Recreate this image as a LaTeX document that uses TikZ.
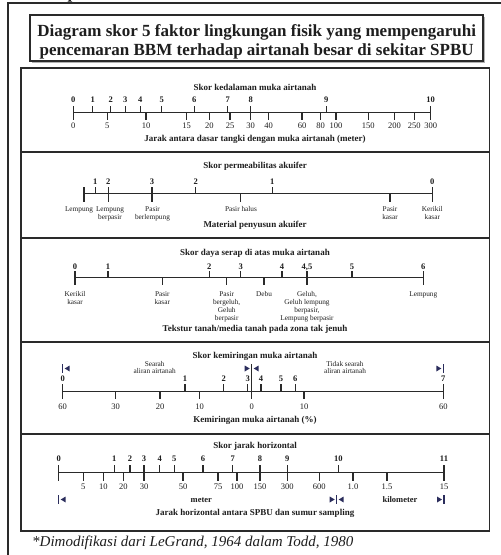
\documentclass[tikz,border=0pt]{standalone}
\usepackage{fontspec}
\setmainfont{Liberation Serif}
\definecolor{tc}{HTML}{1E1E1E}
\definecolor{lc}{HTML}{2A2A2A}
\definecolor{mkc}{HTML}{2B2D5C}
\newcommand{\mkL}[2]{%
  \draw[mkbar] (#1,#2-4.5) -- (#1,#2+4.5);
  \fill[mkc] (#1+2,#2) -- (#1+7,#2-3) -- (#1+7,#2+3) -- cycle;}
\newcommand{\mkR}[2]{%
  \draw[mkbar] (#1,#2-4.5) -- (#1,#2+4.5);
  \fill[mkc] (#1-2,#2) -- (#1-7,#2-3) -- (#1-7,#2+3) -- cycle;}
\begin{document}
\begin{tikzpicture}[x=1pt,y=-1pt,
  ln/.style={draw=lc, line width=1.3pt},
  tk/.style={draw=lc, line width=1.1pt},
  mkbar/.style={draw=mkc, line width=1.2pt},
  score/.style={font=\fontsize{8.5}{10}\selectfont\bfseries, text=tc, inner sep=0pt, anchor=base},
  val/.style={font=\fontsize{8.5}{10}\selectfont, text=tc, inner sep=0pt, anchor=base},
  lab/.style={font=\fontsize{7.3}{8.2}\selectfont, text=tc, inner sep=0pt, anchor=base, align=center},
  sect/.style={font=\fontsize{9}{10}\selectfont\bfseries, text=tc, inner sep=0pt, anchor=base},
  unit/.style={font=\fontsize{8.5}{10}\selectfont\bfseries, text=tc, inner sep=0pt, anchor=base}]
\useasboundingbox (0,0) rectangle (501,555);
\fill[white] (0,0) rectangle (501,555);
% partial heading letter at the top edge
\node[font=\fontsize{17}{20}\selectfont\bfseries, text=tc, inner sep=0pt, anchor=base west] (hdp) at (67.5,-1.3) {p};
% outer frame
\draw[draw=lc, line width=1.5pt] (8,3) -- (501,3);
\draw[draw=lc, line width=2pt] (8,2.25) -- (8,555);
% title box
\fill[gray!60] (31.5,16.5) rectangle (484.5,62.5);
\draw[draw=lc, line width=1.4pt, fill=white] (30,15) rectangle (483,61);
\node[font=\fontsize{17}{18.3}\selectfont\bfseries, text=tc, inner sep=0pt, anchor=base, align=center] (ttl) at (256.7,55)
  {Diagram skor 5 faktor lingkungan fisik yang mempengaruhi\\pencemaran BBM terhadap airtanah besar di sekitar SPBU};
% main box and dividers
\draw[draw=lc, line width=1.4pt] (21,68) rectangle (489.5,531);
\foreach \yy in {152,238,342,434} \draw[draw=lc, line width=1.3pt] (21,\yy) -- (489.5,\yy);

% ---------- Section 1
\node[sect] (t1) at (255,90) {Skor kedalaman muka airtanah};
\def\ly{112.7}
\draw[ln] (73.3,\ly) -- (430.7,\ly);
\foreach \x/\t [count=\i] in {73.3/0,92.7/1,110.7/2,125.3/3,140.3/4,161.7/5,194.3/6,227.7/7,250.7/8,326.3/9,430.7/10}
  {\draw[tk] (\x,\ly) -- ++(0,-6.5); \node[score] (a\i) at (\x,102.6) {\t};}
\foreach \x/\t [count=\i] in {73.3/0,107.3/5,146/10,186.7/15,209.3/20,230/25,250.5/30,268.5/40,302/60,320.7/80,336/100,368.3/150,394.5/200,414.3/250,430.7/300}
  {\draw[tk] (\x,\ly) -- ++(0,7); \node[val] (b\i) at (\x,128.6) {\t};}
\node[sect] (x1) at (255,141.3) {Jarak antara dasar tangki dengan muka airtanah (meter)};

% ---------- Section 2
\node[sect] (t2) at (255,168.8) {Skor permeabilitas akuifer};
\def\ly{193.3}
\draw[ln] (84,\ly) -- (432.3,\ly);
\foreach \x in {84,95.3,108.3,152,195.7,272.3,432.3} \draw[tk] (\x,\ly) -- ++(0,-6.6);
\foreach \x in {84,108.3,152,240.7,390,432.3} \draw[tk] (\x,\ly) -- ++(0,8.4);
\foreach \x/\t [count=\i] in {95.3/1,108.3/2,152/3,195.7/2,272.3/1,432.3/0}
  {\node[score] (c\i) at (\x,184) {\t};}
\node[lab] (d1) at (79,211) {Lempung};
\node[lab] (d2) at (110,219.2) {Lempung\\berpasir};
\node[lab] (d3) at (152.5,219.2) {Pasir\\berlempung};
\node[lab] (d4) at (241,211) {Pasir halus};
\node[lab] (d5) at (390,219.2) {Pasir\\kasar};
\node[lab] (d6) at (432.3,219.2) {Kerikil\\kasar};
\node[sect] (x2) at (255,227.7) {Material penyusun akuifer};

% ---------- Section 3
\node[sect] (t3) at (255,255.3) {Skor daya serap di atas muka airtanah};
\def\ly{277.7}
\draw[ln] (75,\ly) -- (423.3,\ly);
\foreach \x/\t [count=\i] in {75/0,108/1,209.3/2,240.7/3,282/4,307/{4,5},352/5,423.3/6}
  {\draw[tk] (\x,\ly) -- ++(0,-6.7); \node[score] (e\i) at (\x,269) {\t};}
\foreach \x in {75,162.3,226.7,264,307,423.3} \draw[tk] (\x,\ly) -- ++(0,7.3);
\node[lab] (f1) at (75,304.5) {Kerikil\\kasar};
\node[lab] (f2) at (162.3,304.5) {Pasir\\kasar};
\node[lab] (f3) at (226.7,320.9) {Pasir\\bergeluh,\\Geluh\\berpasir};
\node[lab] (f4) at (264,296.3) {Debu};
\node[lab] (f5) at (307,320.9) {Geluh,\\Geluh lempung\\berpasir,\\Lempung berpasir};
\node[lab] (f6) at (423.3,296.3) {Lempung};
\node[sect] (x3) at (255,331) {Tekstur tanah/media tanah pada zona tak jenuh};

% ---------- Section 4
\node[sect] (t4) at (255,358.5) {Skor kemiringan muka airtanah};
\node[lab, font=\fontsize{7.3}{7.4}\selectfont] (g1) at (154.7,373.4) {Searah\\aliran airtanah};
\node[lab, font=\fontsize{7.3}{7.4}\selectfont] (g2) at (345,373.4) {Tidak searah\\aliran airtanah};
\mkL{62.7}{368.5}
\mkR{251.7}{368.5}
\mkL{251.7}{368.5}
\mkR{443.3}{368.5}
\def\ly{391.7}
\draw[ln] (62.7,\ly) -- (443.3,\ly);
\draw[tk] (251.7,364) -- (251.7,399.3);
\foreach \x/\t [count=\i] in {62.7/0,185/1,223.7/2,247.7/3,261/4,281/5,295.3/6,443.3/7}
  {\draw[tk] (\x,\ly) -- ++(0,-7.7); \node[score] (h\i) at (\x,381.3) {\t};}
\foreach \x/\t [count=\i] in {62.7/60,115.7/30,160/20,199.7/10,251.7/0,304/10,443.3/60}
  {\draw[tk] (\x,\ly) -- ++(0,7.6); \node[val] (k\i) at (\x,409.7) {\t};}
\node[sect] (x4) at (255,422.5) {Kemiringan muka airtanah (\%)};

% ---------- Section 5
\node[sect] (t5) at (255,448.3) {Skor jarak horizontal};
\def\ly{472.7}
\draw[ln] (58.7,\ly) -- (444,\ly);
\foreach \x/\t [count=\i] in {58.7/0,114.3/1,130/2,144/3,159.7/4,174.3/5,203/6,232.7/7,260/8,287.3/9,338.3/10,444/11}
  {\draw[tk] (\x,\ly) -- ++(0,-7.7); \node[score] (m\i) at (\x,461.3) {\t};}
\draw[tk] (58.7,\ly) -- ++(0,8.3);
\foreach \x/\t [count=\i] in {83.3/5,103.3/10,123.3/20,144/30,183/50,218/75,237/100,260/150,287.3/300,319.3/600,353/1.0,387/1.5,444/15}
  {\draw[tk] (\x,\ly) -- ++(0,8.3); \node[val] (n\i) at (\x,489.7) {\t};}
\mkL{58.7}{499.5}
\mkR{336.7}{499.5}
\mkL{336.7}{499.5}
\mkR{444}{499.5}
\node[unit] (u1) at (201.3,502) {meter};
\node[unit] (u2) at (400,502) {kilometer};
\node[sect] (x5) at (255,515.3) {Jarak horizontal antara SPBU dan sumur sampling};

% footer
\node[font=\fontsize{15}{17}\selectfont\itshape, text=tc, inner sep=0pt, anchor=base west] (src) at (32,546)
  {*Dimodifikasi dari LeGrand, 1964 dalam Todd, 1980};
\end{tikzpicture}
\end{document}
